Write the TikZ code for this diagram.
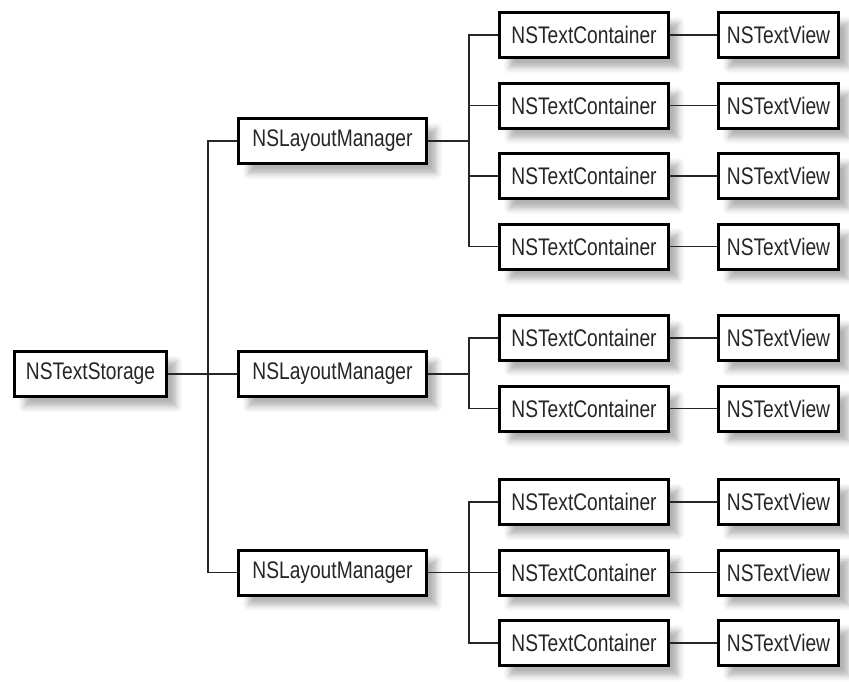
\documentclass[tikz,border=0pt]{standalone}
\usepackage{fontspec}
\setmainfont[FakeStretch=0.8]{Liberation Sans}
\usetikzlibrary{shadows.blur}

\begin{document}
\begin{tikzpicture}[x=1pt, y=-1pt, node distance={70.5pt},
                    box/.style = {draw, fill=white, line width=3pt, minimum height=45pt, inner sep=0pt,
                                  text=black!85, font=\fontsize{24}{27}\selectfont,
                                  blur shadow={shadow xshift=10pt, shadow yshift=-10pt, shadow blur radius=6pt, shadow opacity=30}},
                    storebox/.style = {box, minimum width=152pt},
                    mgrbox/.style = {box, minimum width=188pt},
                    contbox/.style = {box, minimum width=169pt},
                    viewbox/.style = {box, minimum width=120pt},
                    link/.style = {line width=1.8pt, black!85}]
        \useasboundingbox (0,0) rectangle (849,681);
        \node[storebox] (store) at (90.5,374) {NSTextStorage};
        \node[mgrbox] (m1) at (332.5,141) {NSLayoutManager};
        \node[mgrbox] (m2) at (332.5,374) {NSLayoutManager};
        \node[mgrbox] (m3) at (332.5,572.5) {NSLayoutManager};
        \node[contbox] (c1) at (584,35) {NSTextContainer};
        \node[contbox] (c2) [below of=c1] {NSTextContainer};
        \node[contbox] (c3) [below of=c2] {NSTextContainer};
        \node[contbox] (c4) [below of=c3] {NSTextContainer};
        \node[contbox] (c5) [below of=c4, yshift=-21pt] {NSTextContainer};
        \node[contbox] (c6) [below of=c5] {NSTextContainer};
        \node[contbox] (c7) [below of=c6, yshift=-23pt] {NSTextContainer};
        \node[contbox] (c8) [below of=c7] {NSTextContainer};
        \node[contbox] (c9) [below of=c8] {NSTextContainer};
        \foreach \i in {1,...,9}
            \node[viewbox] (v\i) [right of=c\i, xshift=124pt] {NSTextView};
        % storage to layout managers
        \draw[link] (store) -- (m2);
        \draw[link] (m1.west) -- ++(-29,0) |- (m3.west);
        % layout managers to containers
        \draw[link] (c1.west) -- ++(-29,0) |- (c4.west);
        \draw[link] (m1.east) -- ++(41,0);
        \foreach \i in {2,3}
            \draw[link] (c\i.west) -- ++(-29,0);
        \draw[link] (c5.west) -- ++(-29,0) |- (c6.west);
        \draw[link] (m2.east) -- ++(41,0);
        \draw[link] (c7.west) -- ++(-29,0) |- (c9.west);
        \draw[link] (m3) -- (c8);
        % containers to views
        \foreach \i in {1,...,9}
            \draw[link] (c\i) -- (v\i);
\end{tikzpicture}
\end{document}
